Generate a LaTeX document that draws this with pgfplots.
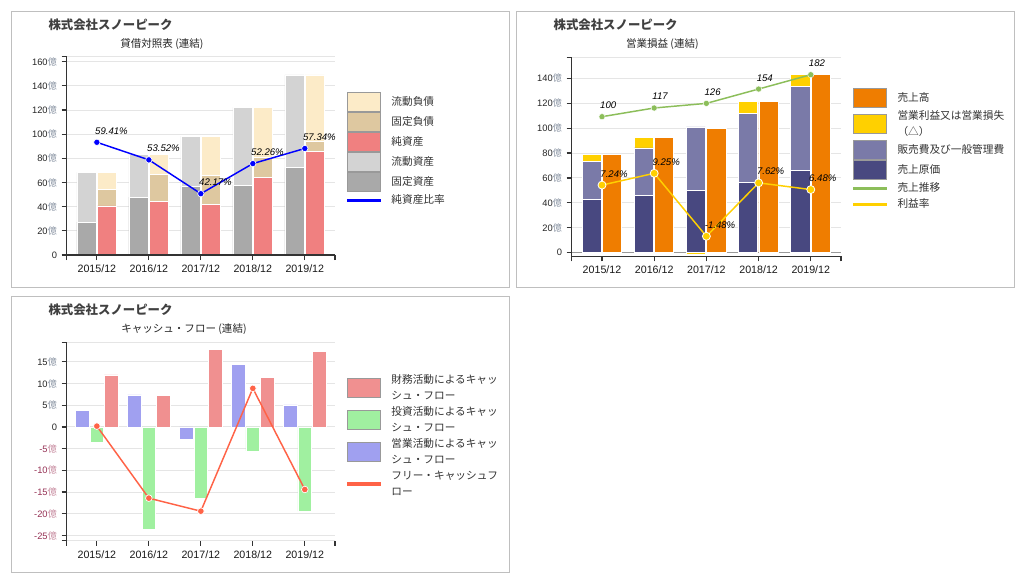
\documentclass[border=0pt]{standalone}
\usepackage{pgfplots}
\pgfplotsset{compat=1.18}
\usepackage{fontspec}
\setmainfont{Liberation Sans}
\newfontfamily\cjk{Noto Sans CJK JP}
\definecolor{creamC}{RGB}{252,235,200}
\definecolor{tanC}{RGB}{222,200,160}
\definecolor{pinkC}{RGB}{240,128,128}
\definecolor{lgrayC}{RGB}{211,211,211}
\definecolor{dgrayC}{RGB}{169,169,169}
\definecolor{blueC}{RGB}{0,0,255}
\definecolor{orangeC}{RGB}{239,125,0}
\definecolor{goldC}{RGB}{255,208,0}
\definecolor{purpleC}{RGB}{122,122,168}
\definecolor{navyC}{RGB}{72,72,128}
\definecolor{greenL}{RGB}{140,190,90}
\definecolor{cashR}{RGB}{240,144,144}
\definecolor{cashG}{RGB}{160,240,160}
\definecolor{cashB}{RGB}{160,160,240}
\definecolor{tomatoC}{RGB}{255,99,71}
\definecolor{okugray}{RGB}{140,150,165}
\definecolor{negred}{RGB}{150,50,85}
\definecolor{okupink}{RGB}{200,140,160}
\newcommand\oku{{\cjk\color{okugray}億}}
\newcommand\okun{{\cjk\color{okupink}億}}
\newcommand\negc[1]{\textcolor{negred}{#1}}
\pgfplotsset{
  panel/.style={
    scale only axis, anchor=south west, xmin=-0.58, xmax=4.58,
    axis x line*=bottom, axis y line*=left,
    axis line style={draw=black!80, line width=0.9pt},
    tick align=outside, major tick length=3.75pt,
    tick style={draw=black!80, line width=0.9pt},
    xtick={0,1,2,3,4}, xticklabels={2015/12,2016/12,2017/12,2018/12,2019/12},
    ymajorgrids, grid style={draw=black!10, line width=0.75pt},
    xticklabel style={font=\fontsize{8}{9}\selectfont, text=black!90},
    yticklabel style={font=\fontsize{7}{8}\selectfont, text=black!85},
    extra x ticks={-0.58,4.58}, extra x tick labels={},
    extra y tick labels={}, extra y tick style={grid=major},
    /pgf/number format/assume math mode=true,
    clip=false,
  },
  overlay/.style={scale only axis, anchor=south west, xmin=-0.58, xmax=4.58,
    hide axis, clip=false, /pgf/number format/assume math mode=true},
  bars/.style={ybar, bar width=0.365, draw=white, line width=0.5pt, forget plot},
  boxleg/.style={legend image code/.code={
      \path[draw=none, fill=none] (0pt,-7.5pt) rectangle (25pt,7.5pt);
      \path[draw=black!40, line width=0.75pt, fill=#1] (0.4pt,-7.1pt) rectangle (24.6pt,7.1pt);}},
  boxlegtall/.style={legend image code/.code={
      \path[draw=none, fill=none] (0pt,-12pt) rectangle (25pt,12pt);
      \path[draw=black!40, line width=0.75pt, fill=#1] (0.4pt,-7.1pt) rectangle (24.6pt,7.1pt);}},
  lineleg/.style={legend image code/.code={
      \path[draw=none, fill=none] (0pt,-6pt) rectangle (25pt,6pt);
      \path[draw=#1, line width=2.6pt] (0pt,0pt) -- (25pt,0pt);}},
  linelegtall/.style={legend image code/.code={
      \path[draw=none, fill=none] (0pt,-12pt) rectangle (25pt,12pt);
      \path[draw=#1, line width=2.6pt] (0pt,0pt) -- (25pt,0pt);}},
  legstyle/.style={legend style={at={#1}, anchor=north west, draw=none, fill=none,
      inner sep=0pt, outer sep=0pt, row sep=0pt, column sep=6.3pt,
      font=\cjk\fontsize{8}{12}\selectfont,
      cells={anchor=west, align=left}, nodes={inner sep=0.5pt, text=black!80}}},
  vlab/.style={nodes near coords, every node near coord/.append style={anchor=base west,
      inner sep=0pt, xshift=-1.5pt, yshift=6pt, font=\itshape\fontsize{7.2}{8}\selectfont, text=black}},
  pctlab/.style={vlab, nodes near coords={\pgfmathprintnumber[fixed,fixed zerofill,precision=2]{\pgfplotspointmeta}\%}},
}
\begin{document}
\begin{tikzpicture}
\fill[white] (0pt,0pt) rectangle (771pt,-437.25pt);
\useasboundingbox (0pt,0pt) rectangle (771pt,-437.25pt);
% frames
\draw[draw=black!25, line width=0.75pt] (8.25pt,-8.8pt) rectangle (381.75pt,-215.8pt);
\draw[draw=black!25, line width=0.75pt] (387pt,-8.8pt) rectangle (760.5pt,-215.8pt);
\draw[draw=black!25, line width=0.75pt] (8.25pt,-222.5pt) rectangle (381.75pt,-429.5pt);
% titles
\node[anchor=west, inner sep=0pt, font=\cjk\bfseries\fontsize{9.3}{11}\selectfont, text=black!75] at (36.2pt,-18.75pt) {株式会社スノーピーク};
\node[anchor=west, inner sep=0pt, font=\cjk\fontsize{7.9}{9}\selectfont, text=black!85] at (90pt,-33.2pt) {貸借対照表 (連結)};
\node[anchor=west, inner sep=0pt, font=\cjk\bfseries\fontsize{9.3}{11}\selectfont, text=black!75] at (415pt,-18.75pt) {株式会社スノーピーク};
\node[anchor=west, inner sep=0pt, font=\cjk\fontsize{7.9}{9}\selectfont, text=black!85] at (469.3pt,-33.2pt) {営業損益 (連結)};
\node[anchor=west, inner sep=0pt, font=\cjk\bfseries\fontsize{9.3}{11}\selectfont, text=black!75] at (36.2pt,-232.5pt) {株式会社スノーピーク};
\node[anchor=west, inner sep=0pt, font=\cjk\fontsize{7.9}{9}\selectfont, text=black!85] at (90.75pt,-247pt) {キャッシュ・フロー (連結)};

% ---------- Panel 1: balance sheet ----------
\begin{axis}[panel, at={(50.03pt,-191.25pt)}, width=201.2pt, height=148.6pt,
  ymin=0, ymax=164, ytick={0,20,...,160},
  yticklabels={0,20\oku,40\oku,60\oku,80\oku,100\oku,120\oku,140\oku,160\oku},
  extra y ticks={164}, legstyle={(1.0395,0.8213)}]
\addlegendimage{boxleg=creamC}\addlegendentry{流動負債}
\addlegendimage{boxleg=tanC}\addlegendentry{固定負債}
\addlegendimage{boxleg=pinkC}\addlegendentry{純資産}
\addlegendimage{boxleg=lgrayC}\addlegendentry{流動資産}
\addlegendimage{boxleg=dgrayC}\addlegendentry{固定資産}
\addlegendimage{lineleg=blueC}\addlegendentry{純資産比率}
% assets (left): total = current + fixed
\addplot[bars, bar shift=-0.2, fill=lgrayC] coordinates {(0,68.5) (1,83.3) (2,98.5) (3,122.2) (4,149.0)};
\addplot[bars, bar shift=-0.2, fill=dgrayC] coordinates {(0,27.3) (1,48.0) (2,57.1) (3,57.9) (4,72.3)};
% liabilities + net assets (right)
\addplot[bars, bar shift=0.19, fill=creamC] coordinates {(0,68.5) (1,83.3) (2,98.5) (3,122.2) (4,149.0)};
\addplot[bars, bar shift=0.19, fill=tanC] coordinates {(0,54.4) (1,66.8) (2,66.2) (3,81.0) (4,93.8)};
\addplot[bars, bar shift=0.19, fill=pinkC] coordinates {(0,40.6) (1,44.7) (2,41.6) (3,64.0) (4,85.5)};
\addplot[forget plot, draw=black!80, line width=0.9pt] coordinates {(-0.58,0) (4.58,0)};
\end{axis}
\begin{axis}[overlay, at={(50.03pt,-191.25pt)}, width=201.2pt, height=148.6pt, ymin=21.6, ymax=88.06]
\addplot[draw=blueC, line width=1.1pt, mark=*, mark size=2.4pt,
  mark options={fill=blueC, draw=white, line width=0.5pt}, pctlab]
  coordinates {(0,59.41) (1,53.52) (2,42.17) (3,52.26) (4,57.34)};
\end{axis}

% ---------- Panel 2: income statement ----------
\begin{axis}[panel, at={(428.8pt,-192.3pt)}, width=202pt, height=149.4pt,
  ymin=-3, ymax=157, ytick={0,20,...,140},
  yticklabels={0,20\oku,40\oku,60\oku,80\oku,100\oku,120\oku,140\oku},
  extra y ticks={157}, legstyle={(1.0395,0.8439)}]
\addlegendimage{boxleg=orangeC}\addlegendentry{売上高}
\addlegendimage{boxlegtall=goldC}\addlegendentry{営業利益又は営業損失\\（△）}
\addlegendimage{boxleg=purpleC}\addlegendentry{販売費及び一般管理費}
\addlegendimage{boxleg=navyC}\addlegendentry{売上原価}
\addlegendimage{lineleg=greenL}\addlegendentry{売上推移}
\addlegendimage{lineleg=goldC}\addlegendentry{利益率}
\addplot[forget plot, draw=black!40, line width=1pt] coordinates {(-0.58,0) (4.58,0)};
% cost stack (left): operating profit on top of SG&A on top of cost of sales
\addplot[bars, bar shift=-0.2, fill=goldC] coordinates {(0,79.0) (1,92.9) (3,121.3) (4,143.5)};
\addplot[bars, bar shift=-0.2, fill=purpleC] coordinates {(0,73.1) (1,84.1) (2,101.0) (3,111.7) (4,133.6)};
\addplot[bars, bar shift=-0.2, fill=navyC] coordinates {(0,42.9) (1,46.1) (2,50.1) (3,56.2) (4,65.9)};
\addplot[bars, bar shift=-0.2, fill=goldC] coordinates {(2,-1.47)};
% sales (right)
\addplot[bars, bar shift=0.19, fill=orangeC] coordinates {(0,79.0) (1,92.9) (2,99.6) (3,121.3) (4,143.5)};
\end{axis}
\begin{axis}[overlay, at={(428.8pt,-192.3pt)}, width=202pt, height=149.4pt, ymin=-172.9, ymax=216.2]
\addplot[draw=greenL, line width=1.1pt, mark=*, mark size=2.3pt,
  mark options={fill=greenL, draw=white, line width=0.3pt}, vlab]
  coordinates {(0,100) (1,117) (2,126) (3,154) (4,182)};
\end{axis}
\begin{axis}[overlay, at={(428.8pt,-192.3pt)}, width=202pt, height=149.4pt, ymin=-4.91, ymax=29.03]
\addplot[draw=goldC, line width=1.1pt, mark=*, mark size=3pt,
  mark options={fill=goldC, draw=white, line width=0.6pt}, pctlab]
  coordinates {(0,7.24) (1,9.25) (2,-1.48) (3,7.62) (4,6.48)};
\end{axis}

% ---------- Panel 3: cash flow ----------
\begin{axis}[panel, at={(50.03pt,-405.5pt)}, width=201.2pt, height=148.8pt,
  ymin=-26.2, ymax=19.52, ytick={-25,-20,...,15},
  yticklabels={\negc{-25}\okun,\negc{-20}\okun,\negc{-15}\okun,\negc{-10}\okun,\negc{-5}\okun,0,5\oku,10\oku,15\oku},
  extra y ticks={-26.2,19.52}, legstyle={(1.0395,0.8503)}]
\addlegendimage{boxlegtall=cashR}\addlegendentry{財務活動によるキャッ\\シュ・フロー}
\addlegendimage{boxlegtall=cashG}\addlegendentry{投資活動によるキャッ\\シュ・フロー}
\addlegendimage{boxlegtall=cashB}\addlegendentry{営業活動によるキャッ\\シュ・フロー}
\addlegendimage{linelegtall=tomatoC}\addlegendentry{フリー・キャッシュフ\\ロー}
\addplot[bars, bar width=0.263, bar shift=-0.275, fill=cashB] coordinates {(0,3.9) (1,7.4) (2,-2.8) (3,14.4) (4,5.1)};
\addplot[bars, bar width=0.263, bar shift=0, fill=cashG] coordinates {(0,-3.6) (1,-23.7) (2,-16.4) (3,-5.5) (4,-19.4)};
\addplot[bars, bar width=0.263, bar shift=0.275, fill=cashR] coordinates {(0,12.0) (1,7.2) (2,17.9) (3,11.5) (4,17.35)};
\addplot[forget plot, draw=tomatoC, line width=1.1pt, mark=*, mark size=2.5pt,
  mark options={fill=tomatoC, draw=white, line width=0.5pt}]
  coordinates {(0,0.2) (1,-16.4) (2,-19.4) (3,8.9) (4,-14.4)};
\end{axis}
\end{tikzpicture}
\end{document}
